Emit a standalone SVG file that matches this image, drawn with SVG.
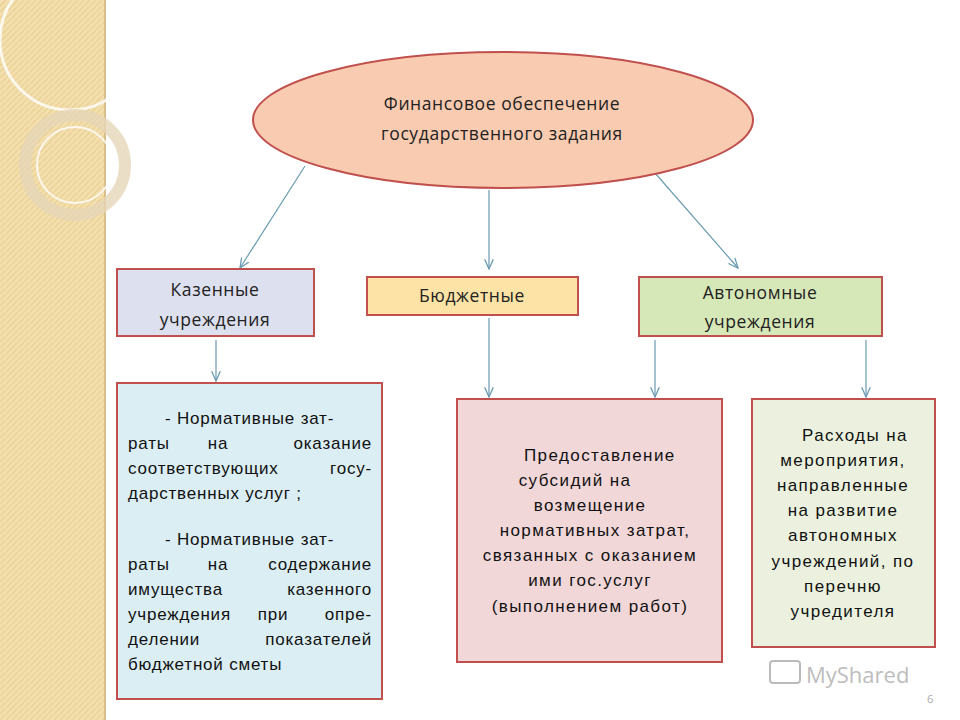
<svg xmlns="http://www.w3.org/2000/svg" width="960" height="720" viewBox="0 0 960 720">
<defs>
<marker id="ah" viewBox="0 0 10 10" refX="9" refY="5" markerWidth="9" markerHeight="9" orient="auto"><path d="M0,1 L9,5 L0,9" fill="none" stroke="#6a9bb0" stroke-width="1.2"/></marker>
<pattern id="stripes" width="6" height="6" patternUnits="userSpaceOnUse"><rect width="6" height="6" fill="#f3dfae"/><path d="M0,6 L6,0" stroke="#ead196" stroke-width="1.5"/></pattern>
</defs>
<style>
.t{font-family:"Liberation Sans",Arial,sans-serif;font-size:17px;letter-spacing:1.4px;fill:#111}
.h{font-family:"Open Sans","Liberation Sans",sans-serif;font-size:17.5px;letter-spacing:0.6px;fill:#222;text-anchor:middle}
.c{text-anchor:middle}
.e{text-anchor:end}
.box{stroke:#c0504d;stroke-width:2}
.con{stroke:#6a9bb0;stroke-width:1.2;fill:none;marker-end:url(#ah)}
</style>
<rect width="960" height="720" fill="#fff"/>
<g id="decor">
<rect x="0" y="0" width="104" height="720" fill="url(#stripes)"/>
<line x1="105" y1="0" x2="105" y2="720" stroke="#d9c08a" stroke-width="2"/>
<circle cx="70" cy="40" r="70" fill="none" stroke="#fff" stroke-width="3" opacity="0.8"/>
<circle cx="75" cy="165" r="50" fill="none" stroke="#e6d6b8" stroke-width="12" opacity="0.8"/>
<circle cx="75" cy="165" r="38" fill="none" stroke="#fff" stroke-width="2" opacity="0.8"/>
</g>
<g id="connectors">
<line class="con" x1="305" y1="166" x2="240" y2="268"/>
<line class="con" x1="489" y1="190" x2="489" y2="269"/>
<line class="con" x1="655" y1="173" x2="738" y2="268"/>
<line class="con" x1="216" y1="340" x2="216" y2="381"/>
<line class="con" x1="489" y1="318" x2="489" y2="397"/>
<line class="con" x1="655" y1="340" x2="655" y2="397"/>
<line class="con" x1="866" y1="340" x2="866" y2="397"/>
</g>
<g id="root">
<ellipse cx="503" cy="120" rx="250" ry="68" fill="#f9cbb0" class="box"/>
<text class="h" x="502" y="110">Финансовое обеспечение</text>
<text class="h" x="502" y="140">государственного задания</text>
</g>
<g id="kazennye">
<rect x="117" y="269" width="197" height="67" fill="#dde0ee" class="box"/>
<text class="h" x="215" y="296">Казенные</text>
<text class="h" x="215" y="326">учреждения</text>
</g>
<g id="budzhetnye">
<rect x="367" y="277" width="211" height="38" fill="#fde3a5" class="box"/>
<text class="h" x="472" y="302">Бюджетные</text>
</g>
<g id="avtonomnye">
<rect x="639" y="277" width="243" height="59" fill="#d7e8b8" class="box"/>
<text class="h" x="760" y="299">Автономные</text>
<text class="h" x="760" y="328">учреждения</text>
</g>
<g id="left">
<rect x="117" y="383" width="265" height="316" fill="#dbeef3" class="box"/>
<g class="t" style="letter-spacing:0.8px">
<text x="165" y="424">- Нормативные  зат-</text>
<text x="128" y="449">раты</text><text class="c" x="218" y="449">на</text><text class="e" x="372" y="449">оказание</text>
<text x="128" y="474">соответствующих</text><text class="e" x="372" y="474">госу-</text>
<text x="128" y="499">дарственных услуг ;</text>
<text x="165" y="545">- Нормативные  зат-</text>
<text x="128" y="570">раты</text><text class="c" x="218" y="570">на</text><text class="e" x="372" y="570">содержание</text>
<text x="128" y="595">имущества</text><text class="e" x="372" y="595">казенного</text>
<text x="128" y="620">учреждения</text><text class="c" x="273" y="620">при</text><text class="e" x="372" y="620">опре-</text>
<text x="128" y="645">делении</text><text class="e" x="372" y="645">показателей</text>
<text x="128" y="670">бюджетной сметы</text>
</g>
</g>
<g id="middle">
<rect x="457" y="399" width="265" height="263" fill="#f2d7d9" class="box"/>
<g class="t">
<text x="524" y="461">Предоставление</text>
<text class="c" x="575" y="486">субсидий на</text>
<text class="c" x="590" y="511">возмещение</text>
<text class="c" x="595" y="536">нормативных затрат,</text>
<text class="c" x="590" y="561">связанных с оказанием</text>
<text class="c" x="590" y="586">ими гос.услуг</text>
<text class="c" x="590" y="612">(выполнением работ)</text>
</g>
</g>
<g id="right">
<rect x="752" y="399" width="183" height="248" fill="#ebf1de" class="box"/>
<g class="t">
<text x="802" y="441">Расходы на</text>
<text class="c" x="843" y="466">мероприятия,</text>
<text class="c" x="843" y="491">направленные</text>
<text class="c" x="843" y="516">на развитие</text>
<text class="c" x="843" y="541">автономных</text>
<text class="c" x="843" y="567">учреждений, по</text>
<text class="c" x="843" y="592">перечню</text>
<text class="c" x="843" y="617">учредителя</text>
</g>
</g>
<g id="watermark">
<rect x="770" y="661" width="30" height="22" rx="3" fill="none" stroke="#bbb" stroke-width="2"/>
<text x="806" y="683" font-family="Open Sans,Liberation Sans,sans-serif" font-size="22" fill="#bdbdbd">MyShared</text>
<text x="927" y="703" font-family="Open Sans,Liberation Sans,sans-serif" font-size="11" fill="#aaa">6</text>
</g>
</svg>
